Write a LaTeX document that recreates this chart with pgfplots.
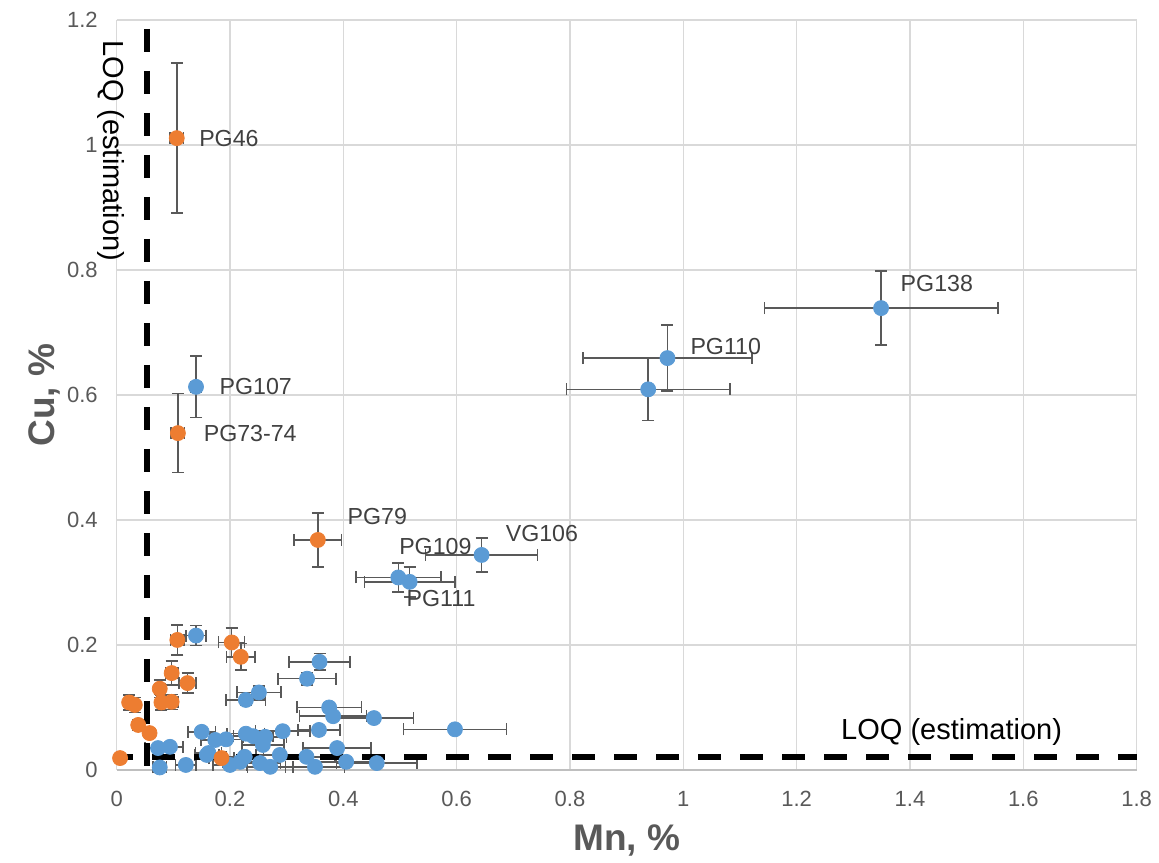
\documentclass[border=0pt]{standalone}
\usepackage{pgfplots}
\pgfplotsset{compat=1.18}
\usepackage{pgfplotstable}
\usepackage{fontspec}
\setmainfont{Liberation Sans}
\definecolor{bluept}{HTML}{5B9BD5}
\definecolor{orangept}{HTML}{ED7D31}
\definecolor{errgray}{HTML}{595959}
\definecolor{gridgray}{HTML}{D9D9D9}
\definecolor{axgray}{HTML}{BFBFBF}
\definecolor{txtgray}{HTML}{595959}
\definecolor{lblgray}{HTML}{404040}

\pgfplotstableread{
x y ex ey
1.349 0.739 0.206 0.059
0.972 0.659 0.149 0.053
0.938 0.609 0.144 0.050
0.644 0.344 0.099 0.027
0.497 0.308 0.075 0.023
0.517 0.301 0.080 0.024
0.140 0.613 0.010 0.049
0.140 0.215 0.018 0.016
0.358 0.173 0.054 0.013
0.336 0.146 0.051 0.010
0.251 0.124 0.039 0.010
0.228 0.112 0.035 0.008
0.375 0.100 0.057 0.007
0.382 0.086 0.059 0.006
0.454 0.083 0.070 0.006
0.597 0.065 0.091 0.005
0.357 0.064 0.037 0.005
0.293 0.062 0.048 0.005
0.150 0.061 0.024 0.005
0.174 0.048 0.025 0.004
0.193 0.049 0.028 0.004
0.228 0.058 0.033 0.004
0.241 0.054 0.035 0.004
0.262 0.053 0.038 0.004
0.258 0.040 0.037 0.003
0.389 0.035 0.060 0.003
0.073 0.035 0.023 0.003
0.094 0.037 0.023 0.003
0.076 0.004 0.012 0.001
0.122 0.008 0.018 0.001
0.159 0.024 0.022 0.002
0.162 0.027 0.023 0.002
0.200 0.008 0.030 0.001
0.218 0.013 0.031 0.001
0.226 0.021 0.033 0.002
0.253 0.011 0.036 0.001
0.271 0.005 0.040 0.001
0.288 0.024 0.042 0.002
0.335 0.021 0.050 0.002
0.350 0.005 0.052 0.001
0.405 0.013 0.060 0.001
0.459 0.011 0.071 0.001
}\bluedata

\pgfplotstableread{
x y ex ey
0.106 1.011 0.012 0.120
0.108 0.539 0.012 0.063
0.355 0.368 0.042 0.043
0.107 0.208 0.012 0.024
0.203 0.204 0.023 0.023
0.219 0.181 0.025 0.021
0.097 0.155 0.011 0.019
0.125 0.139 0.015 0.016
0.076 0.130 0.009 0.014
0.022 0.108 0.004 0.012
0.032 0.104 0.005 0.012
0.079 0.108 0.009 0.012
0.097 0.109 0.011 0.012
0.038 0.072 0.005 0.008
0.058 0.059 0.007 0.007
0.006 0.019 0.002 0.002
0.185 0.019 0.022 0.003
}\orangedata

\pgfplotstableread{
x y
0.053 1.2
0.053 0
}\loqv

\pgfplotstableread{
x y
0 0.021
1.8 0.021
}\loqh

\begin{document}
\begin{tikzpicture}
\begin{axis}[
  scale only axis,
  width=510pt, height=375pt,
  xmin=0, xmax=1.8, ymin=0, ymax=1.2,
  xtick={0,0.2,0.4,0.6,0.8,1,1.2,1.4,1.6,1.8},
  ytick={0,0.2,0.4,0.6,0.8,1,1.2},
  grid=major,
  grid style={draw=gridgray, line width=0.75pt},
  axis x line*=bottom, axis y line*=left,
  x axis line style={-, draw=axgray, line width=0.9pt},
  y axis line style={-, draw=gridgray, line width=0.75pt},
  major tick length=0pt,
  /pgf/number format/assume math mode=true,
  tick label style={font=\fontsize{11}{13}\selectfont, text=txtgray},
  xticklabel style={yshift=-7pt},
  yticklabel style={xshift=-6pt},
  clip=false,
]
\addplot[only marks, mark=*, mark size=3.75pt, color=bluept, mark options={draw=bluept, fill=bluept},
  error bars/.cd, x dir=both, x explicit, y dir=both, y explicit,
  error bar style={draw=errgray, line width=0.75pt},
  error mark options={rotate=90, draw=errgray, mark size=3pt, line width=0.75pt}]
  table[x=x, y=y, x error=ex, y error=ey] {\bluedata};
\addplot[only marks, mark=*, mark size=3.75pt, color=orangept, mark options={draw=orangept, fill=orangept},
  error bars/.cd, x dir=both, x explicit, y dir=both, y explicit,
  error bar style={draw=errgray, line width=0.75pt},
  error mark options={rotate=90, draw=errgray, mark size=3pt, line width=0.75pt}]
  table[x=x, y=y, x error=ex, y error=ey] {\orangedata};
\addplot[black, line width=3pt, dash pattern=on 11.5pt off 9.5pt, dash phase=16.5pt] table[x=x,y=y] {\loqv};
\addplot[black, line width=3pt, dash pattern=on 11.5pt off 9.5pt, dash phase=3.3pt] table[x=x,y=y] {\loqh};

\begin{scope}[every node/.style={font=\fontsize{11.6}{14}\selectfont, text=lblgray, inner sep=0pt, anchor=west}]
\node at (axis cs:0.145,1.01) {PG46};
\node at (axis cs:1.383,0.779) {PG138};
\node at (axis cs:1.012,0.677) {PG110};
\node at (axis cs:0.181,0.613) {PG107};
\node at (axis cs:0.153,0.538) {PG73-74};
\node at (axis cs:0.407,0.405) {PG79};
\node at (axis cs:0.498,0.358) {PG109};
\node at (axis cs:0.686,0.378) {VG106};
\node at (axis cs:0.511,0.274) {PG111};
\end{scope}
\node[font=\fontsize{14.5}{17}\selectfont, text=black, anchor=west, inner sep=0pt] at (axis cs:1.278,0.061) {LOQ (estimation)};
\node[font=\fontsize{14.5}{17}\selectfont, text=black, anchor=north west, inner sep=0pt, rotate=-90] at (axis cs:0.0147,1.168) {LOQ (estimation)};

\node[font=\bfseries\fontsize{18.5}{22}\selectfont, text=txtgray, anchor=base] at ([yshift=-40.5pt]rel axis cs:0.5,0) {Mn, \%};
\node[font=\bfseries\fontsize{18.5}{22}\selectfont, text=txtgray, anchor=center, rotate=90] at ([xshift=-35.9pt]rel axis cs:0,0.5) {Cu, \%};
\end{axis}
\pgfresetboundingbox
\path[use as bounding box] (-58.35pt,-46.5pt) rectangle (521.2pt,385pt);
\end{tikzpicture}
\end{document}
